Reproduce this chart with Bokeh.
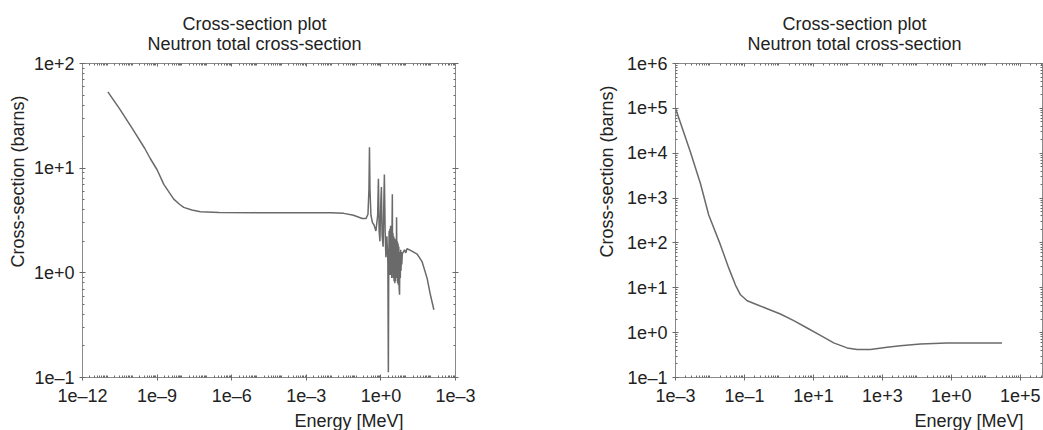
from bokeh.plotting import figure
from bokeh.models import LogAxis, FixedTicker, Title, Range1d
from bokeh.layouts import row
from bokeh.embed import file_html
from bokeh.resources import INLINE

FONT = "Liberation Sans"
TEXT = "#222222"
AXIS = "#8a8a8a"
TICK = "#6a6a6a"
CURVE = "#6a6a6a"

# ---- left panel: total cross-section, thermal to fast region ----
left_energy_mev = [
    # 1/v slope and flat epithermal plateau
    1.05e-11, 3.16e-11, 1.0e-10, 3.16e-10, 5.37e-10, 1.0e-9, 1.86e-9, 3.16e-9,
    4.68e-9, 7.94e-9, 1.17e-8, 2.51e-8, 5.5e-8, 3.16e-7, 1.0e-5, 1.0e-3,
    1.0e-2, 3.2e-2, 7.9e-2, 0.178, 0.251,
    # first resonances
    0.302, 0.331, 0.347, 0.363, 0.398, 0.457, 0.525, 0.631, 0.741, 0.794,
    0.851, 0.912, 1.00, 1.047, 1.122, 1.230, 1.318, 1.380, 1.479, 1.585,
    1.738, 1.905, 1.995,
    # dense resonance region
    2.065, 2.138, 2.213, 2.291, 2.371, 2.455, 2.541, 2.630, 2.723, 2.818,
    2.884, 2.951, 3.055, 3.162, 3.273, 3.388, 3.508, 3.631, 3.758, 3.890,
    4.027, 4.169, 4.266, 4.416, 4.571, 4.732, 4.898, 5.070, 5.248, 5.433,
    5.623, 5.821, 6.026, 6.237, 6.457, 6.683, 6.918, 7.244, 7.943, 8.913,
    # smooth high-energy tail
    10.0, 11.22, 15.5, 28.8, 45.7, 72.4, 97.7, 134.9,
]
left_sigma_barns = [
    53.6, 36.7, 24.0, 15.5, 12.3, 9.66, 7.0, 5.8,
    5.06, 4.52, 4.22, 3.98, 3.83, 3.78, 3.76, 3.76,
    3.76, 3.7, 3.55, 3.3, 3.3,
    3.63, 6.31, 15.85, 6.31, 3.55, 3.02, 2.88, 2.51, 3.55, 7.94,
    2.51, 2.0, 5.01, 6.61, 2.24, 1.78, 5.01, 8.71, 2.51, 1.41,
    2.24, 1.26, 0.112,
    1.12, 2.51, 1.0, 2.63, 0.955, 2.82, 1.0, 2.51, 0.891, 3.16,
    5.62, 1.12, 2.40, 0.891, 2.24, 0.832, 2.14, 0.794, 2.0, 0.832,
    2.09, 0.891, 3.39, 1.0, 2.0, 0.794, 1.91, 0.759, 1.78, 0.708,
    0.617, 1.58, 0.891, 1.66, 1.05, 1.58, 1.20, 1.51, 1.58, 1.66,
    1.55, 1.70, 1.64, 1.51, 1.27, 0.885, 0.617, 0.444,
]
left_xticks = [1e-12, 1e-9, 1e-6, 1e-3, 1e0, 1e3]
left_xtick_labels = ["1e\u201312", "1e\u20139", "1e\u20136", "1e\u20133", "1e+0", "1e\u20133"]
left_yticks = [1e-1, 1e0, 1e1, 1e2]
left_ytick_labels = ["1e\u20131", "1e+0", "1e+1", "1e+2"]

# ---- right panel: total cross-section, high-energy region ----
right_energy_mev = [
    1.0e-3, 2.72e-3, 5.31e-3, 9.2e-3, 2.01e-2, 3.51e-2, 5.48e-2, 7.66e-2,
    0.120, 0.233, 0.455, 1.10, 2.69, 6.56, 15.96, 38.7,
    94.8, 185.0, 449.0, 1368.0, 3327.0, 12620.0, 75000.0, 2.95e6,
]
right_sigma_barns = [
    1.0e5, 1.05e4, 2090.0, 419.0, 90.4, 27.4, 11.5, 6.98,
    5.14, 4.19, 3.41, 2.60, 1.85, 1.27, 0.871, 0.590,
    0.457, 0.419, 0.419, 0.471, 0.513, 0.561, 0.590, 0.590,
]
right_xticks = [1e-3, 1e-1, 1e1, 1e3, 1e5, 1e7]
right_xtick_labels = ["1e\u20133", "1e\u20131", "1e+1", "1e+3", "1e+0", "1e+5"]
right_yticks = [1e-1, 1e0, 1e1, 1e2, 1e3, 1e4, 1e5, 1e6]
right_ytick_labels = ["1e\u20131", "1e+0", "1e+1", "1e+2", "1e+3", "1e+4", "1e+5", "1e+6"]

TITLE_1 = "Cross-section plot"
TITLE_2 = "Neutron total cross-section"
X_LABEL = "Energy [MeV]"
Y_LABEL = "Cross-section (barns)"


def decade_minors(lo, hi):
    return [m * 10.0 ** d for d in range(lo, hi) for m in range(1, 10)]


def style_axis(ax, ticks, labels, minors, shown=True, tick_out=3):
    ax.ticker = FixedTicker(ticks=ticks, minor_ticks=minors)
    ax.axis_line_color = AXIS
    ax.axis_line_width = 1
    ax.major_tick_line_color = TICK
    ax.minor_tick_line_color = TICK
    ax.major_tick_in = 3
    ax.major_tick_out = tick_out
    ax.minor_tick_in = 2
    ax.minor_tick_out = 0
    if shown:
        ax.major_label_overrides = dict(zip(ticks, labels))
        ax.major_label_text_font = FONT
        ax.major_label_text_font_size = "18px"
        ax.major_label_text_color = TEXT
        ax.major_label_standoff = 5
    else:
        ax.major_label_overrides = {t: "" for t in ticks}
        ax.major_label_text_font_size = "0px"
        ax.major_label_standoff = 0


def title(text, **kw):
    return Title(text=text, text_font=FONT, text_font_size="18px",
                 text_font_style="normal", text_color=TEXT, **kw)


def make_panel(width, borders, x_rng, y_rng, xt, xl, xm, yt, yl, ym,
               title_offsets, xlabel_offset, ylabel_offset, ylabel_standoff,
               right_tick_out):
    left, right, top, bottom = borders
    p = figure(width=width, height=430, x_axis_type="log", y_axis_type="log",
               x_range=Range1d(*x_rng), y_range=Range1d(*y_rng), title=None,
               toolbar_location=None, output_backend="svg",
               min_border_left=left, min_border_right=right,
               min_border_top=top, min_border_bottom=bottom,
               background_fill_color="white", border_fill_color="white")
    p.grid.visible = False
    p.outline_line_color = AXIS
    style_axis(p.xaxis[0], xt, xl, xm)
    style_axis(p.yaxis[0], yt, yl, ym)
    top_ax = LogAxis()
    style_axis(top_ax, xt, xl, xm, shown=False, tick_out=0)
    p.add_layout(top_ax, "above")
    right_ax = LogAxis()
    style_axis(right_ax, yt, yl, ym, shown=False, tick_out=right_tick_out)
    p.add_layout(right_ax, "right")

    off1, off2 = title_offsets
    p.add_layout(title(TITLE_2, align="left", offset=off2, standoff=20), "above")
    p.add_layout(title(TITLE_1, align="left", offset=off1, standoff=-24), "above")
    p.add_layout(title(X_LABEL, align="right", offset=xlabel_offset, standoff=0), "below")
    p.add_layout(title(Y_LABEL, align="left", offset=ylabel_offset,
                       standoff=ylabel_standoff), "left")
    return p


p_left = make_panel(
    580, (82, 125, 63, 50), (1e-12, 1e3), (1e-1, 1e2),
    left_xticks, left_xtick_labels, decade_minors(-12, 3),
    left_yticks, left_ytick_labels, decade_minors(-1, 2),
    title_offsets=(100, 65), xlabel_offset=52, ylabel_offset=110, ylabel_standoff=5,
    right_tick_out=3)
p_left.line(left_energy_mev, left_sigma_barns, line_color=CURVE, line_width=1.5)

p_right = make_panel(
    463, (95, 1, 63, 52), (1e-3, 4.4e7), (1e-1, 1e6),
    right_xticks, right_xtick_labels, decade_minors(-3, 8),
    right_yticks, right_ytick_labels, decade_minors(-1, 6),
    title_offsets=(107, 72), xlabel_offset=19, ylabel_offset=120, ylabel_standoff=14,
    right_tick_out=0)
p_right.line(right_energy_mev, right_sigma_barns, line_color=CURVE, line_width=1.5)

layout = row(p_left, p_right)
with open("out.html", "w") as f:
    f.write(file_html(layout, INLINE))
